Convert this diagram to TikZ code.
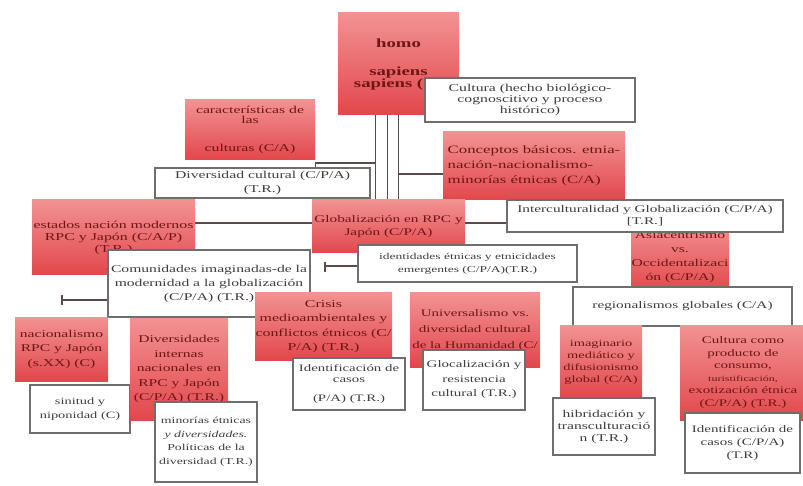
\documentclass[tikz,border=0pt]{standalone}
\usepackage{fontspec}
\setmainfont{Liberation Serif}[FakeStretch=1.5]
\usetikzlibrary{backgrounds}
\definecolor{rtop}{HTML}{F29292}
\definecolor{rbot}{HTML}{E2474B}
\definecolor{rtext}{HTML}{6E1616}
\definecolor{wline}{HTML}{6E6E6E}
\definecolor{wtext}{HTML}{3E3E3E}
\definecolor{cline}{HTML}{5C4A4A}
\begin{document}
\begin{tikzpicture}[x=1pt,y=-1pt,
 rbox/.style={draw=none, top color=rtop, bottom color=rbot, text=rtext, inner sep=0pt, align=center, font=\fontsize{10.6}{14}\selectfont},
 wbox/.style={draw=wline, line width=1.2pt, fill=white, text=wtext, inner sep=0pt, align=center, font=\fontsize{10.2}{12}\selectfont},
 conn/.style={draw=cline, line width=1.3pt},
 sz/.style 2 args={minimum width=#1pt, minimum height=#2pt}]
\useasboundingbox (0,0) rectangle (803,486);

\node[rbox, sz={121}{102}, font=\bfseries\fontsize{12.5}{12}\selectfont] (homo) at (398.5,64) {homo\\[16pt]sapiens\\sapiens (C)};
\node[wbox, sz={210}{44}, font=\fontsize{10.5}{11}\selectfont] (cultura) at (530,100) {Cultura (hecho biológico-\\cognoscitivo y proceso\\histórico)};
\node[rbox, sz={130}{60}, font=\fontsize{10.5}{10}\selectfont] (carac) at (250,130) {características de\\las\\[18pt]culturas (C/A)};
\node[wbox, sz={215}{30}, font=\fontsize{10.5}{14}\selectfont] (divc) at (262.5,183) {Diversidad cultural (C/P/A)\\(T.R.)};
\node[rbox, sz={182}{68}, align=left, font=\fontsize{11.2}{15}\selectfont] (concept) at (534,166) {Conceptos básicos. etnia-\\nación-nacionalismo-\\minorías étnicas (C/A)};
\node[rbox, sz={163}{75}, font=\fontsize{10.6}{12}\selectfont] (estados) at (113.5,237.5) {estados nación modernos\\RPC y Japón (C/A/P)\\(T.R.)};
\node[rbox, sz={153}{53}, font=\fontsize{10.2}{13}\selectfont] (glob) at (388.5,226.5) {Globalización en RPC y\\Japón (C/P/A)};
\node[rbox, sz={98}{70}, font=\fontsize{10.4}{14}\selectfont] (asia) at (680,257) {Asiacentrismo\\vs.\\Occidentalizaci\\ón (C/P/A)};
\node[wbox, sz={276}{32}, font=\fontsize{10.2}{12}\selectfont] (inter) at (645,216) {Interculturalidad y Globalización (C/P/A)\\{[}T.R.{]}};
\node[wbox, sz={219}{39}] (region) at (682.5,306.5) {regionalismos globales (C/A)};
\node[wbox, sz={219}{37}, font=\fontsize{9}{13}\selectfont] (ident) at (467.5,263.5) {identidades étnicas y etnicidades\\emergentes (C/P/A)(T.R.)};
\node[wbox, sz={202}{67}, font=\fontsize{10.4}{14}\selectfont] (comun) at (209,283.5) {Comunidades imaginadas-de la\\modernidad a la globalización\\(C/P/A) (T.R.)};
\node[rbox, sz={137}{67}, font=\fontsize{10.6}{14.5}\selectfont] (crisis) at (323.5,326.5) {Crisis\\medioambientales y\\conflictos étnicos (C/\\P/A) (T.R.)};
\node[wbox, sz={112}{52}, font=\fontsize{9.9}{11}\selectfont] (ident1) at (349,384) {Identificación de\\casos\\[8pt](P/A) (T.R.)};
\node[rbox, sz={130}{74}, font=\fontsize{10}{16}\selectfont] (univ) at (475,330) {Universalismo vs.\\diversidad cultural\\de la \underline{Humanidad} (C/};
\node[wbox, sz={102}{60}, font=\fontsize{10}{14.5}\selectfont] (gloc) at (474,380) {Glocalización y\\resistencia\\cultural (T.R.)};
\node[rbox, sz={93}{64}, font=\fontsize{10.4}{14.5}\selectfont] (nacio) at (61.5,349) {nacionalismo\\RPC y Japón\\(s.XX) (C)};
\node[wbox, sz={100}{48}, font=\fontsize{9.6}{14}\selectfont] (sinitud) at (80,409) {sinitud y\\niponidad (C)};
\node[rbox, sz={98}{102}, font=\fontsize{10.4}{14.5}\selectfont] (diverint) at (179,369) {Diversidades\\internas\\nacionales en\\RPC y Japón\\(C/P/A) (T.R.)};
\node[wbox, sz={102}{80}, font=\fontsize{9.2}{13.5}\selectfont] (minor) at (206,442) {minorías étnicas\\\textit{y diversidades.}\\Políticas de la\\diversidad (T.R.)};
\node[rbox, sz={82}{74}, font=\fontsize{9.6}{12}\selectfont] (imag) at (601,362) {imaginario\\mediático y\\difusionismo\\global (C/A)};
\node[wbox, sz={102}{57}, font=\fontsize{10.4}{12}\selectfont] (hibr) at (604,426.5) {hibridación y\\transculturació\\n (T.R.)};
\node[rbox, sz={126}{95}, font=\fontsize{10}{12.5}\selectfont] (consumo) at (743,372.5) {Cultura como\\producto de\\consumo,\\{\fontsize{8}{9}\selectfont turistificación,}\\exotización étnica\\(C/P/A) (T.R.)};
\node[wbox, sz={115}{60}, font=\fontsize{10}{13}\selectfont] (ident2) at (742.5,443) {Identificación de\\casos (C/P/A)\\(T.R)};

\coordinate (j1) at (375,163);
\coordinate (j2) at (398,174);
\coordinate (j3) at (0,223);
\coordinate (t1) at (325,266);
\coordinate (t2) at (62,300);

\begin{scope}[on background layer]
\fill[white] (0,0) rectangle (803,486);
\draw[conn] ([xshift=-23pt]homo.south) -- ([xshift=-23pt]homo.south |- glob.north);
\draw[conn] ([xshift=-11pt]homo.south) -- ([xshift=-11pt]homo.south |- glob.north);
\draw[conn] (homo.south) -- (homo.south |- glob.north);
\draw[conn] (j1) -| (divc.north -| carac.east);
\draw[conn] (j2) -- (j2 -| concept.west);
\draw[conn] (estados.east |- j3) -- (glob.west |- j3);
\draw[conn] (glob.east |- j3) -- (inter.west |- j3);
\draw[conn] (ident.west |- t1) -- (t1);
\draw[conn] ([yshift=4pt]t1) -- ([yshift=-6pt]t1);
\draw[conn] (comun.west |- t2) -- (t2);
\draw[conn] ([yshift=5pt]t2) -- ([yshift=-5pt]t2);
\end{scope}
\end{tikzpicture}
\end{document}
